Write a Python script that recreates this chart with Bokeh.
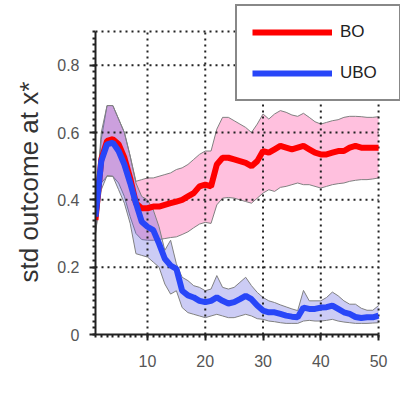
from bokeh.plotting import figure
from bokeh.models import FixedTicker, Legend, LegendItem, Range1d, Title
from bokeh.embed import file_html
from bokeh.resources import INLINE

x = list(range(1, 51))

bo_mean = [0.34, 0.52, 0.575, 0.58, 0.565, 0.525, 0.465, 0.39, 0.375, 0.375,
           0.38, 0.38, 0.385, 0.39, 0.395, 0.40, 0.41, 0.42, 0.44, 0.445,
           0.44, 0.505, 0.525, 0.525, 0.52, 0.515, 0.51, 0.50, 0.515, 0.545,
           0.54, 0.55, 0.56, 0.555, 0.55, 0.555, 0.56, 0.55, 0.54, 0.535,
           0.535, 0.54, 0.545, 0.545, 0.555, 0.56, 0.555, 0.555, 0.555, 0.555]
bo_upper = [0.38, 0.58, 0.68, 0.68, 0.64, 0.60, 0.53, 0.455, 0.46, 0.465,
            0.465, 0.47, 0.475, 0.48, 0.49, 0.495, 0.505, 0.52, 0.535, 0.545,
            0.545, 0.61, 0.645, 0.645, 0.635, 0.625, 0.615, 0.60, 0.625, 0.655,
            0.64, 0.655, 0.665, 0.66, 0.652, 0.648, 0.657, 0.645, 0.632, 0.625,
            0.63, 0.635, 0.638, 0.645, 0.648, 0.648, 0.647, 0.645, 0.645, 0.647]
bo_lower = [0.30, 0.45, 0.47, 0.47, 0.45, 0.41, 0.35, 0.30, 0.282, 0.28,
            0.28, 0.282, 0.285, 0.288, 0.29, 0.297, 0.305, 0.317, 0.328, 0.333,
            0.33, 0.385, 0.405, 0.407, 0.405, 0.40, 0.395, 0.39, 0.405, 0.42,
            0.43, 0.425, 0.437, 0.44, 0.445, 0.45, 0.445, 0.445, 0.44, 0.435,
            0.44, 0.445, 0.448, 0.45, 0.455, 0.458, 0.46, 0.46, 0.462, 0.465]

ubo_mean = [0.35, 0.515, 0.565, 0.57, 0.545, 0.505, 0.45, 0.39, 0.335, 0.32,
            0.31, 0.27, 0.225, 0.205, 0.195, 0.13, 0.116, 0.11, 0.10, 0.096,
            0.10, 0.11, 0.10, 0.092, 0.096, 0.105, 0.115, 0.105, 0.086, 0.071,
            0.066, 0.066, 0.061, 0.056, 0.053, 0.051, 0.08, 0.076, 0.076, 0.08,
            0.081, 0.086, 0.076, 0.066, 0.061, 0.052, 0.049, 0.051, 0.051, 0.056]
ubo_upper = [0.38, 0.60, 0.68, 0.68, 0.64, 0.60, 0.53, 0.45, 0.41, 0.40,
             0.37, 0.32, 0.25, 0.28, 0.21, 0.17, 0.16, 0.145, 0.14, 0.13,
             0.135, 0.175, 0.14, 0.135, 0.14, 0.155, 0.17, 0.145, 0.125, 0.11,
             0.10, 0.095, 0.088, 0.082, 0.076, 0.071, 0.131, 0.10, 0.10, 0.10,
             0.11, 0.126, 0.115, 0.10, 0.09, 0.09, 0.078, 0.072, 0.072, 0.086]
ubo_lower = [0.30, 0.43, 0.472, 0.47, 0.43, 0.39, 0.33, 0.24, 0.235, 0.23,
             0.215, 0.20, 0.15, 0.12, 0.13, 0.08, 0.065, 0.06, 0.055, 0.05,
             0.055, 0.06, 0.055, 0.05, 0.05, 0.055, 0.06, 0.055, 0.047, 0.045,
             0.04, 0.038, 0.035, 0.033, 0.033, 0.033, 0.04, 0.042, 0.04, 0.04,
             0.042, 0.045, 0.04, 0.037, 0.035, 0.033, 0.033, 0.033, 0.034, 0.035]

x_ticks = [10, 20, 30, 40, 50]
y_ticks = [0, 0.2, 0.4, 0.6, 0.8]
y_tick_labels = ["0", "0.2", "0.4", "0.6", "0.8"]
series_labels = ["BO", "UBO"]
y_label = "std outcome at x*"

X_MIN, X_MAX = 1, 50
Y_MIN, Y_MAX = 0, 0.9

FONT = "Liberation Sans"
DARK = "#222222"

# layout (pixels): plotted box 94..378 x 31..334 inside a 415x418 canvas;
# the frame is extended up/right so that the legend can sit outside the box
W, H = 415, 418
BOX_L, BOX_R, BOX_T, BOX_B = 94, 378, 31, 334
FRAME_R = 400
px_per_x = (BOX_R - BOX_L) / (X_MAX - X_MIN)
px_per_y = (BOX_B - BOX_T) / (Y_MAX - Y_MIN)
x_end = X_MAX + (FRAME_R - BOX_R) / px_per_x
y_end = Y_MAX + BOX_T / px_per_y

p = figure(width=W, height=H, output_backend="svg", toolbar_location=None,
           x_range=Range1d(X_MIN, x_end), y_range=Range1d(Y_MIN, y_end),
           min_border_left=BOX_L, min_border_right=W - FRAME_R, min_border_top=0,
           min_border_bottom=H - BOX_B)
p.background_fill_color = "white"
p.border_fill_color = "white"
p.outline_line_color = None
p.xgrid.visible = False
p.ygrid.visible = False

# bands
p.varea(x=x, y1=bo_lower, y2=bo_upper, fill_color="#ff62ac", fill_alpha=0.4, level="image")
p.line(x, bo_upper, line_color="#808080", line_width=1, level="image")
p.line(x, bo_lower, line_color="#808080", line_width=1, level="image")
p.varea(x=x, y1=ubo_lower, y2=ubo_upper, fill_color="#5555de", fill_alpha=0.3, level="image")
p.line(x, ubo_upper, line_color="#808080", line_width=1, level="image")
p.line(x, ubo_lower, line_color="#808080", line_width=1, level="image")

# dotted grid lines limited to the box (incl. top edge at Y_MAX)
gx = [t for t in x_ticks]
p.segment(x0=gx, y0=[Y_MIN] * len(gx), x1=gx, y1=[Y_MAX] * len(gx),
          line_color=DARK, line_dash="2 4", line_width=2, level="underlay")
gy = [t for t in y_ticks if t != Y_MIN] + [Y_MAX]
p.segment(x0=[X_MIN] * len(gy), y0=gy, x1=[X_MAX] * len(gy), y1=gy,
          line_color=DARK, line_dash="2 4", line_width=2, level="underlay")

r_bo = p.line(x, bo_mean, line_color="#ff0000", line_width=6)
r_ubo = p.line(x, ubo_mean, line_color="#2846f8", line_width=6)

# axes
p.xaxis.ticker = FixedTicker(ticks=x_ticks, minor_ticks=list(range(X_MIN, X_MAX + 1)))
p.yaxis.ticker = FixedTicker(ticks=y_ticks, minor_ticks=[i * 0.02 for i in range(46)])
p.yaxis.major_label_overrides = {t: l for t, l in zip(y_ticks, y_tick_labels)}
p.xaxis.bounds = (X_MIN, X_MAX)
p.yaxis.bounds = (Y_MIN, Y_MAX)
for ax in (p.xaxis[0], p.yaxis[0]):
    ax.axis_line_color = DARK
    ax.axis_line_width = 2
    ax.major_tick_line_color = DARK
    ax.major_tick_line_width = 2
    ax.major_tick_in = 0
    ax.major_tick_out = 6
    ax.minor_tick_line_color = DARK
    ax.minor_tick_line_width = 2
    ax.minor_tick_in = 0
    ax.minor_tick_out = 3
    ax.major_label_text_font = FONT
    ax.major_label_text_font_size = "16px"
    ax.major_label_text_color = "#555555"
p.xaxis.major_label_standoff = 14
p.yaxis.major_label_standoff = 10

# y label as a left title, anchored at the bottom so it can be placed on the box
ylab = Title(text=y_label, align="left", offset=52, standoff=22,
             text_font=FONT, text_font_size="26px", text_font_style="normal",
             text_color="#333333")
p.add_layout(ylab, "left")

legend = Legend(items=[LegendItem(label=series_labels[0], renderers=[r_bo]),
                       LegendItem(label=series_labels[1], renderers=[r_ubo])],
                location=(234 - BOX_L, BOX_B - 101), orientation="vertical",
                glyph_width=80, glyph_height=22, label_standoff=8,
                label_width=44, spacing=19, padding=15, margin=0,
                label_text_font=FONT, label_text_font_size="17px",
                label_text_color=DARK,
                border_line_color="#111111", border_line_width=2,
                background_fill_color="white", background_fill_alpha=1)
p.add_layout(legend, "center")

open("out.html", "w").write(file_html(p, INLINE))
